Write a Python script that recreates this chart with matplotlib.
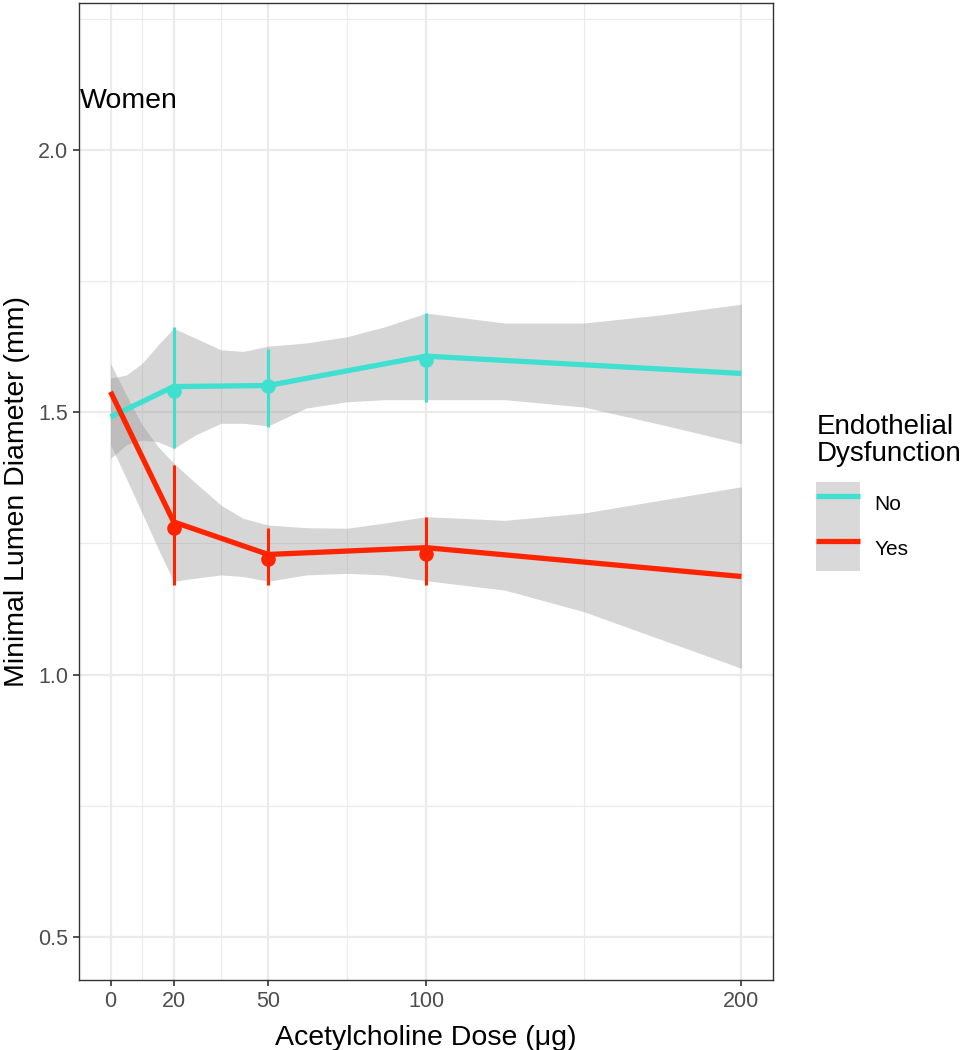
import matplotlib
matplotlib.use("Agg")
import matplotlib.pyplot as plt
from matplotlib.lines import Line2D
from matplotlib.patches import Patch

plt.rcParams['font.family'] = ['Liberation Sans', 'DejaVu Sans']

# ---- data ----
groups = ["No", "Yes"]
colors = {"No": "#40E0D0", "Yes": "#FF2400"}

line_x = [0, 20, 50, 100, 200]
line_y = {
    "No":  [1.491, 1.549, 1.551, 1.607, 1.574],
    "Yes": [1.539, 1.291, 1.229, 1.242, 1.187],
}

point_x = [20, 50, 100]
point_y = {
    "No":  [1.541, 1.550, 1.600],
    "Yes": [1.280, 1.221, 1.230],
}
err_lo = {
    "No":  [1.432, 1.472, 1.520],
    "Yes": [1.171, 1.171, 1.171],
}
err_hi = {
    "No":  [1.663, 1.621, 1.690],
    "Yes": [1.400, 1.280, 1.301],
}

ribbon_x = [0, 5, 10, 15, 20, 27, 35, 42, 50, 62, 75, 87, 100, 125, 150, 175, 200]
ribbon_lo = {
    "No":  [1.412, 1.438, 1.447, 1.444, 1.431, 1.457, 1.479, 1.479, 1.474,
            1.508, 1.520, 1.524, 1.524, 1.524, 1.510, 1.476, 1.440],
    "Yes": [1.438, 1.374, 1.308, 1.241, 1.178, 1.184, 1.190, 1.187, 1.178,
            1.190, 1.193, 1.190, 1.179, 1.161, 1.120, 1.066, 1.012],
}
ribbon_hi = {
    "No":  [1.565, 1.571, 1.593, 1.628, 1.660, 1.641, 1.619, 1.616, 1.626,
            1.632, 1.644, 1.663, 1.689, 1.670, 1.670, 1.686, 1.706],
    "Yes": [1.593, 1.533, 1.476, 1.435, 1.403, 1.365, 1.323, 1.298, 1.285,
            1.280, 1.279, 1.289, 1.301, 1.294, 1.308, 1.333, 1.358],
}

x_major = [0, 20, 50, 100, 200]
x_minor = [10, 35, 75, 150]
y_major = [0.5, 1.0, 1.5, 2.0]
y_minor = [0.75, 1.25, 1.75, 2.25]

# ---- figure ----
W, H = 963, 1050
fig = plt.figure(figsize=(W / 100, H / 100), dpi=100)
L, R, T, B = 79, 773, 3, 980
ax = fig.add_axes([L / W, 1 - B / H, (R - L) / W, (B - T) / H])

ax.set_xlim(-10, 210)
ax.set_ylim(0.418, 2.280)
ax.set_xticks(x_major)
ax.set_xticks(x_minor, minor=True)
ax.set_yticks(y_major)
ax.set_yticks(y_minor, minor=True)
ax.set_yticklabels([f"{v:.1f}" for v in y_major])

ax.grid(True, which='major', color='#EBEBEB', lw=1.6, zorder=0)
ax.grid(True, which='minor', color='#EBEBEB', lw=0.8, zorder=0)
ax.set_axisbelow(True)
ax.tick_params(which='major', length=4, width=1.2, color='#333333',
               labelcolor='#4D4D4D', labelsize=15.5, pad=4)
ax.tick_params(which='minor', length=0)
for s in ax.spines.values():
    s.set_color('#333333')
    s.set_linewidth(1.0)

for g in groups:
    ax.fill_between(ribbon_x, ribbon_lo[g], ribbon_hi[g], color='#999999',
                    alpha=0.4, lw=0, zorder=2)
for g in groups:
    ax.vlines(point_x, err_lo[g], err_hi[g], color=colors[g], lw=2.2, zorder=3)
    ax.plot(line_x, line_y[g], color=colors[g], lw=3.8, solid_capstyle='butt',
            solid_joinstyle='round', zorder=4)
    ax.plot(point_x, point_y[g], 'o', color=colors[g], ms=10.5, mew=0, zorder=5)

ax.text(-9.6, 2.080, "Women", fontsize=20.5, ha='left', va='baseline', color='black')

ax.set_xlabel("Acetylcholine Dose (μg)", fontsize=20.5, color='black', labelpad=9)
ax.set_ylabel("Minimal Lumen Diameter (mm)", fontsize=20.5, color='black')
ax.yaxis.set_label_coords((30 - L) / (R - L), 0.5)

# legend
handles = [(Patch(facecolor='#D9D9D9', edgecolor='none'),
            Line2D([], [], color=colors[g], lw=3.8, solid_capstyle='butt'))
           for g in groups]
fs = 15
key_pt = 44.5 * 72 / 100
hh = (key_pt / fs - 0.35 * 0.7) / 0.65
leg = fig.legend(handles, groups, loc='upper left',
                 bbox_to_anchor=(816 / W, 1 - 482 / H), frameon=False,
                 fontsize=fs, handlelength=44 * 72 / 100 / fs,
                 handleheight=hh, labelspacing=0,
                 handletextpad=0.7, borderpad=0, borderaxespad=0)
fig.text(817 / W, 1 - 414 / H, "Endothelial\nDysfunction", fontsize=20,
         ha='left', va='top', linespacing=1.05)

fig.savefig("out.png", dpi=100)
